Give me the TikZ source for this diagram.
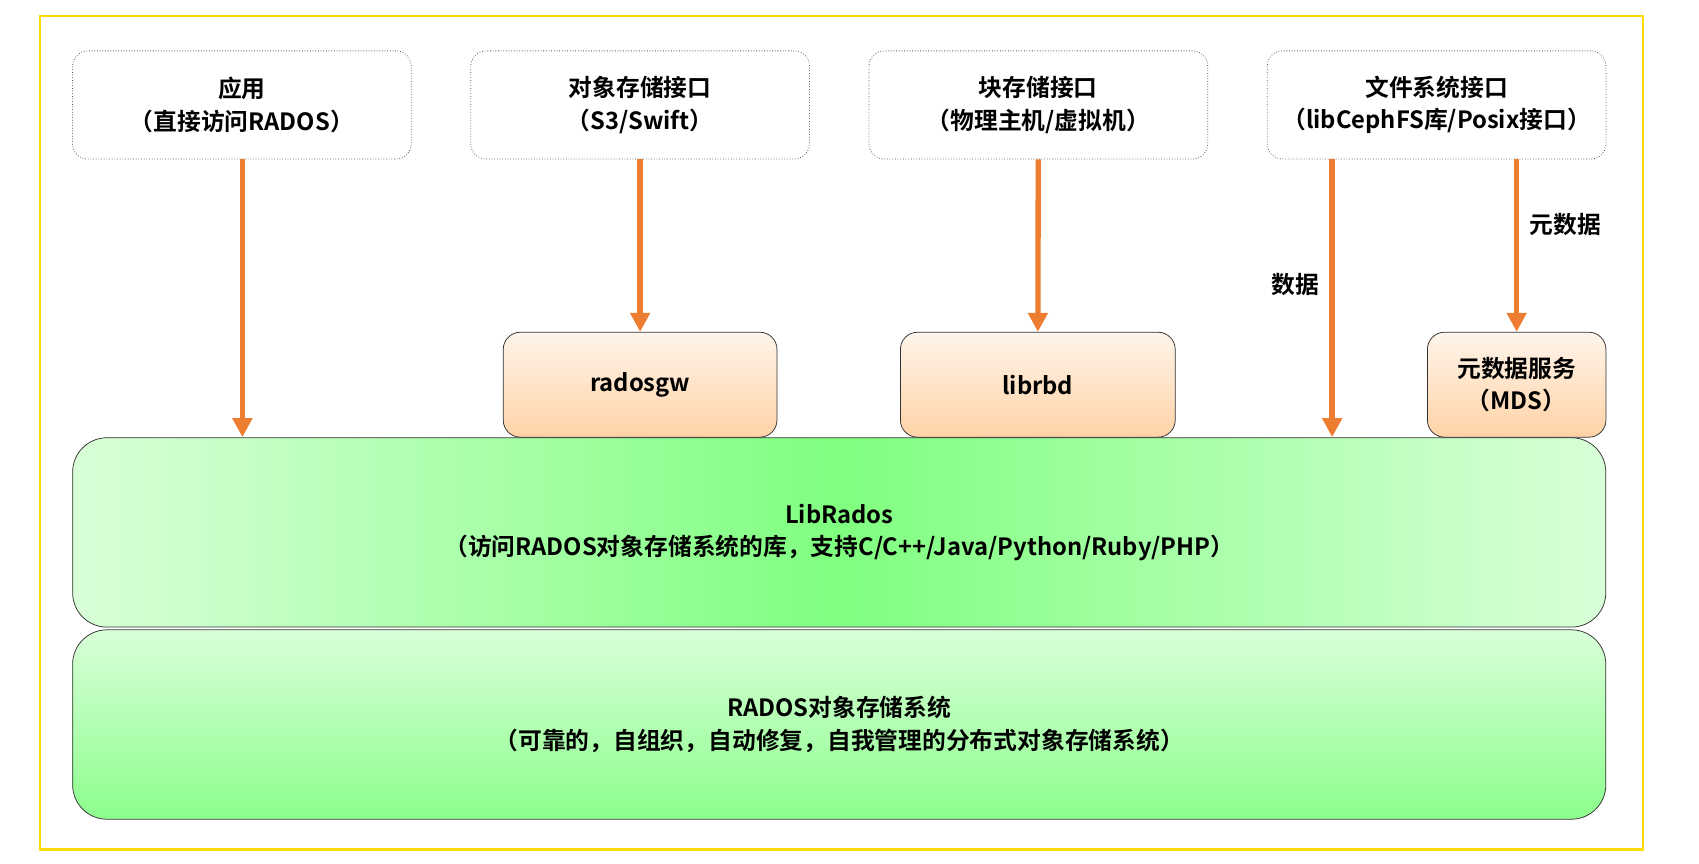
\documentclass[tikz,border=0pt]{standalone}
\usepackage{fontspec}
\setmainfont{Noto Sans CJK SC}[BoldFont={Noto Sans CJK SC Bold}]
\usetikzlibrary{positioning,arrows.meta}
\definecolor{arrowor}{HTML}{ED7D31}
\begin{document}
\begin{tikzpicture}[x=0.02cm,y=-0.02cm,
    font=\fontsize{12.5}{17}\selectfont\bfseries,
    iface/.style={draw=black!70, densely dotted, rounded corners=8pt, align=center, minimum height=2cm},
    comp/.style={draw=black!80, rounded corners=9pt, align=center, minimum height=1.94cm,
        top color=orange!8, bottom color=orange!35},
    layer/.style={draw=black!80, rounded corners=18pt, align=center, minimum width=28.34cm, minimum height=3.5cm,
        left color=green!15, right color=green!15, middle color=green!50},
    link/.style={draw=arrowor, line width=2.8pt, -{Triangle[length=10pt,width=10pt]}}]
    % frame
    \useasboundingbox (0,0) rectangle (1570,798);
    \draw[draw=yellow!80!orange, line width=1.3pt] (37,15) rectangle (1518,785);
    % interfaces
    \node[iface, minimum width=6.26cm] (app) at (223.5,97) {应用\\（直接访问RADOS）};
    \node[iface, minimum width=6.26cm] (obj) at (591.5,97) {对象存储接口\\（S3/Swift）};
    \node[iface, minimum width=6.26cm] (blk) at (959.5,97) {块存储接口\\（物理主机/虚拟机）};
    \node[iface, minimum width=6.26cm] (fs) at (1327.5,97) {文件系统接口\\（libCephFS库/Posix接口）};
    % components
    \node[comp, minimum width=5.06cm] (rgw) at (591.5,355.5) {radosgw};
    \node[comp, minimum width=5.08cm] (rbd) at (959,355.5) {librbd};
    \node[comp, minimum width=3.3cm] (mds) at (1401.5,355.5) {元数据服务\\（MDS）};
    % layers
    \node[layer] (lib) at (775.5,492) {LibRados\\（访问RADOS对象存储系统的库，支持C/C++/Java/Python/Ruby/PHP）};
    \node[layer, top color=green!15, bottom color=green!45] (rados) at (775.5,669.5) {RADOS对象存储系统\\（可靠的，自组织，自动修复，自我管理的分布式对象存储系统）};
    % links
    \coordinate (appin) at (224,404);
    \coordinate (fsin) at (1231,404);
    \draw[link] (app.south -| appin) -- (appin);
    \draw[link] (obj) -- (rgw);
    \draw[link] (blk) -- (rbd);
    \draw[link] (fs.south -| fsin) -- node[left=2pt, pos=0.45] {数据} (fsin);
    \draw[link] (fs.south -| mds) -- node[right=2pt, pos=0.38] {元数据} (mds);
\end{tikzpicture}
\end{document}
